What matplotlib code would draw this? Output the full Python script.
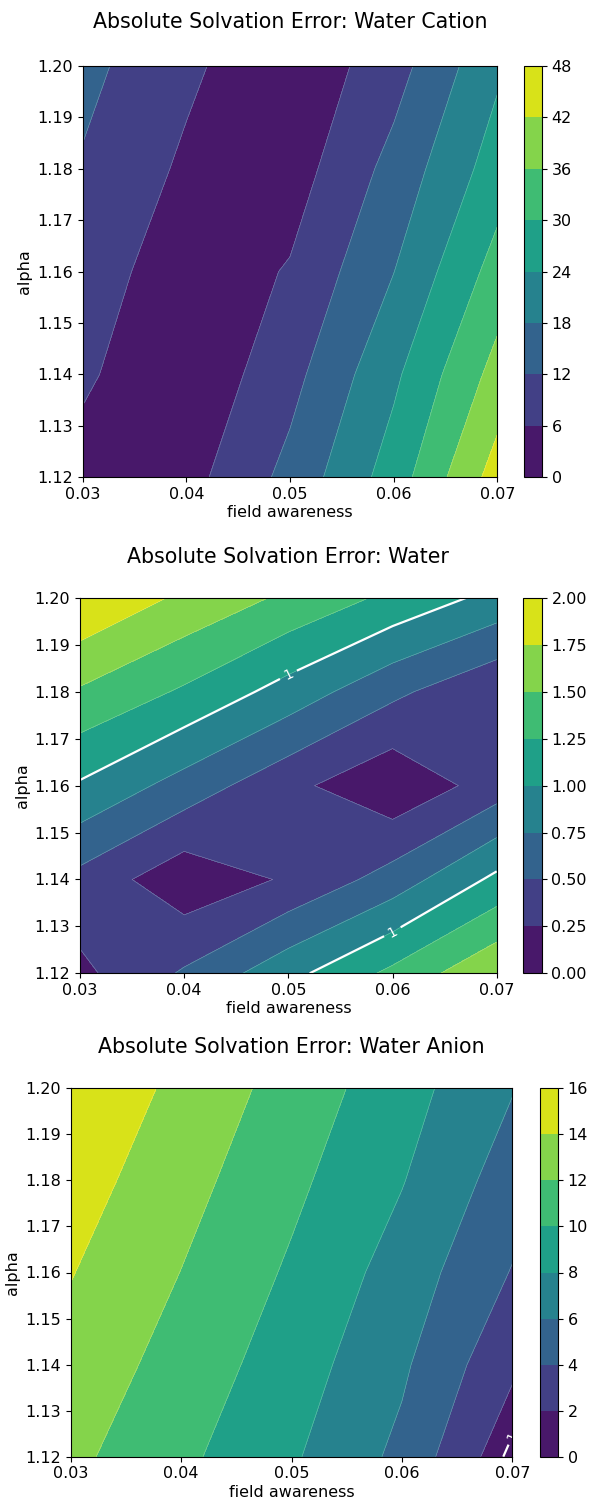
import numpy as np
import matplotlib
matplotlib.use("Agg")
import matplotlib.pyplot as plt
from matplotlib.ticker import FormatStrFormatter

# Parameter grid of the scan
field_awareness = [0.03, 0.04, 0.05, 0.06, 0.07]
alpha = [1.12, 1.14, 1.16, 1.18, 1.20]

# Absolute solvation errors; rows follow alpha, columns follow field awareness
cation_error = [
    [3.8, 3.8, 13.8, 26.8, 44.7],
    [6.95, 1.1, 10.0, 22.8, 38.2],
    [9.6, 1.95, 6.5, 17.9, 32.4],
    [11.43, 4.97, 3.05, 14.0, 26.9],
    [13.7, 7.2, 1.2, 9.5, 22.9],
]
water_error = [
    [0.19, 0.53, 0.92, 1.31, 1.72],
    [0.42, 0.08, 0.28, 0.606, 1.06],
    [0.97, 0.647, 0.317, 0.05, 0.366],
    [1.47, 1.214, 0.899, 0.556, 0.28],
    [1.99, 1.70, 1.45, 1.19, 0.92],
]
anion_error = [
    [12.47, 10.43, 8.26, 5.5, 0.6],
    [13.28, 11.20, 8.99, 6.33, 2.38],
    [14.09, 11.97, 9.72, 7.15, 3.89],
    [14.91, 12.73, 10.45, 8.1, 5.03],
    [15.72, 13.50, 11.18, 8.8, 6.1],
]

cation_levels = np.arange(0, 49, 6)
water_levels = np.arange(0, 2.01, 0.25)
anion_levels = np.arange(0, 17, 2)
highlight_level = [1]
alpha_ticks = np.arange(1.12, 1.2001, 0.01)

W, H = 590, 1500
fig = plt.figure(figsize=(W / 100, H / 100), dpi=100)


def px_rect(x0, y0, x1, y1):
    return [x0 / W, 1 - y1 / H, (x1 - x0) / W, (y1 - y0) / H]


def panel(ax_box, cb_box, values, levels, title, title_pad):
    ax = fig.add_axes(px_rect(*ax_box))
    cax = fig.add_axes(px_rect(*cb_box))
    X, Y = np.meshgrid(field_awareness, alpha)
    Z = np.asarray(values)
    filled = ax.contourf(X, Y, Z, levels=levels, cmap="viridis")
    ax.contour(X, Y, Z, levels=levels, colors="white", linewidths=0.4, alpha=0.35)
    if Z.min() < highlight_level[0] < Z.max():
        line = ax.contour(X, Y, Z, levels=highlight_level, colors="white", linewidths=1.6)
        ax.clabel(line, fmt="%g", fontsize=10)
    cb = fig.colorbar(filled, cax=cax, ticks=levels)
    cb.ax.tick_params(labelsize=11.5)
    ax.set_title(title, fontsize=14.8, pad=title_pad)
    ax.set_xlabel("field awareness", fontsize=11.5, labelpad=2.5)
    ax.set_ylabel("alpha", fontsize=11.5, labelpad=3.5)
    ax.set_xticks(field_awareness)
    ax.set_yticks(alpha_ticks)
    ax.xaxis.set_major_formatter(FormatStrFormatter("%.2f"))
    ax.yaxis.set_major_formatter(FormatStrFormatter("%.2f"))
    ax.tick_params(labelsize=11.5)
    return ax


panel((82.7, 66, 497.3, 477.3), (523.5, 66, 542, 477.3), cation_error, cation_levels,
      "Absolute Solvation Error: Water Cation", 27)
panel((80, 598, 496.7, 973.3), (522.7, 598, 541.7, 973.3), water_error, water_levels,
      "Absolute Solvation Error: Water", 25)
panel((70.7, 1088.3, 512.3, 1456.7), (540, 1088.3, 558, 1456.7), anion_error, anion_levels,
      "Absolute Solvation Error: Water Anion", 25.2)

fig.savefig("out.png", dpi=100)
